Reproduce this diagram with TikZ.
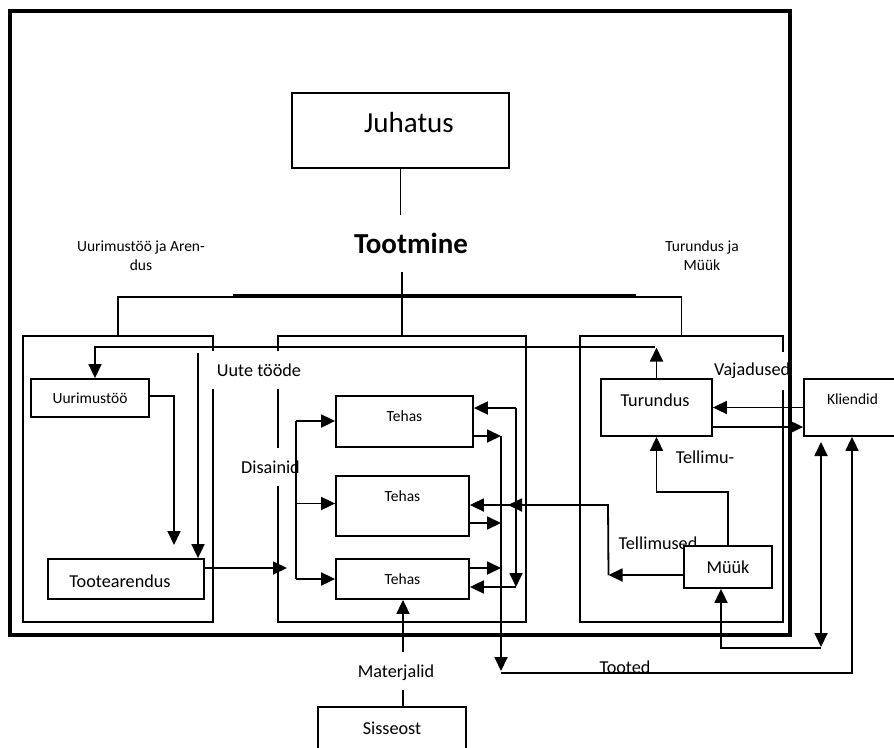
\documentclass[tikz,border=0pt]{standalone}
\usepackage{fontspec}
\setmainfont{Carlito}
\usetikzlibrary{arrows.meta}

\tikzset{
  line/.style={line width=1.8pt},
  tree/.style={line width=1.4pt},
  arr/.style={line width=1.8pt, -{Triangle[length=14pt,width=13pt]}},
  arrboth/.style={line width=1.8pt, {Triangle[length=14pt,width=13pt]}-{Triangle[length=14pt,width=13pt]}},
  box/.style={draw, line width=1.8pt, rectangle, inner sep=0pt, fill=white},
  grp/.style={draw, line width=2pt, rectangle, inner sep=0pt, minimum width=#1, minimum height=286pt},
  small/.style={font=\fontsize{15.5}{19}\selectfont},
  mid/.style={font=\fontsize{18.2}{22}\selectfont},
  big/.style={font=\fontsize{29}{34}\selectfont},
  gap/.style={mid, fill=white, inner xsep=5pt, inner ysep=0pt, minimum height=38pt},
}

\begin{document}
\begin{tikzpicture}[x=1pt,y=-1pt]
\useasboundingbox (0,0) rectangle (894,747);

% department groups
\node[grp=190pt] (grpA) at (118,479) {};
\node[grp=248pt] (grpB) at (402,479) {};
\node[grp=203pt] (grpC) at (681.5,479) {};

% management and the organisation tree
\node[box, minimum width=217pt, minimum height=75pt,
      label={[big, xshift=8.5pt, yshift=7.5pt]center:Juhatus}] (juhatus) at (400.5,130.5) {};
\node[font=\fontsize{29}{34}\selectfont\bfseries] (tootmine) at (411,243) {Tootmine};
\node[small, align=center] (lblrd) at (141,256) {Uurimustöö ja Aren-\\dus};
\node[small, align=center] (lbltm) at (702,256) {Turundus ja\\Müük};

\coordinate (t1) at (400.5,215);
\coordinate (t2) at (402,272);
\coordinate (hub) at (402,297);
\coordinate (barL) at (233,295.5);
\coordinate (barR) at (636,295.5);
\draw[tree] (juhatus.south) -- (t1);
\draw[tree] (t2) -- (grpB.north);
\draw[tree] (grpA.north) -- (grpA.north |- hub) -- (grpC.north |- hub) -- (grpC.north);
\draw[line width=3pt] (barL) -- (barR);

% flow labels
\node[mid] (tellimu) at (705,457) {Tellimu-};
\node[mid] (tellimused) at (658,543) {Tellimused};
\node[mid, anchor=base] (tooted) at (625,673.5) {Tooted};
\node[mid] (materjalid) at (396,673) {Materjalid};
\node[gap] (uute) at (259,370) {Uute tööde};
\node[gap] (disainid) at (270.5,467) {Disainid};
\begin{scope}
  \clip (0,0) rectangle (788,747);
  \node[gap, anchor=west] (vajadused) at (709,371) {Vajadused};
\end{scope}

% units
\node[box, small, minimum width=118pt, minimum height=38pt] (uurim) at (90,398) {Uurimustöö};
\node[box, minimum width=156pt, minimum height=40pt,
      label={[mid, xshift=-6pt, yshift=-2pt]center:Tootearendus}] (tooteare) at (126,579) {};
\node[box, minimum width=137pt, minimum height=51pt,
      label={[small, yshift=5.5pt]center:Tehas}] (tehas1) at (404.5,421.5) {};
\node[box, minimum width=133pt, minimum height=60pt,
      label={[small, yshift=10pt]center:Tehas}] (tehas2) at (402.5,506) {};
\node[box, small, minimum width=133pt, minimum height=40pt] (tehas3) at (402.5,579) {Tehas};
\node[box, minimum width=111pt, minimum height=57pt,
      label={[mid, xshift=-1.5pt, yshift=7.5pt]center:Turundus}] (turundus) at (656.5,407.5) {};
\node[box, minimum width=96pt, minimum height=57pt,
      label={[small, xshift=0.5pt, yshift=8.5pt]center:Kliendid}] (kliendid) at (852,407.5) {};
\node[box, mid, minimum width=88pt, minimum height=42pt] (muuk) at (728,567) {Müük};
\node[box, minimum width=148pt, minimum height=53pt,
      label={[mid, yshift=5.5pt]center:Sisseost}] (sisseost) at (392,733.5) {};

% research and development
\coordinate (fbR) at (656.5,347.5);
\coordinate (fbL) at (95,347);
\coordinate (fbE) at (655,347);
\coordinate (newA) at (198,353);
\coordinate (rd) at (174,545);
\coordinate (dsn) at (287,568);
\draw[arr] (turundus.north) -- (fbR);
\draw[arr] (fbE) -- (fbL) -- (uurim.north -| fbL);
\draw[arr] (newA) -- (tooteare.north -| newA);
\draw[arr] ([yshift=2pt]uurim.east) -| (rd);
\draw[arr] ([yshift=11pt]tooteare.east) -- (dsn);

% designs to the factories
\coordinate (dTop) at (296,421);
\coordinate (dMid) at (296,503.5);
\coordinate (dBot) at (296,579);
\draw[line] (dTop) -- (dBot);
\draw[arr] (dTop) -- (dTop -| tehas1.west);
\draw[arr] (dMid) -- (dMid -| tehas2.west);
\draw[arr] (dBot) -- (dBot -| tehas3.west);

% products out of the factories
\coordinate (o1) at (501,436);
\coordinate (o2) at (501,523);
\coordinate (o3) at (501,568);
\coordinate (oEnd) at (501,671);
\coordinate (tA) at (501,673);
\coordinate (tB) at (852,673);
\draw[arr] (o1 -| tehas1.east) -- (o1);
\draw[arr] (o2 -| tehas2.east) -- (o2);
\draw[arr] (o3 -| tehas3.east) -- (o3);
\draw[arr] (o1) -- (oEnd);
\draw[arr] (tA) -- (tB) -- (kliendid.south -| tB);

% returns to the factories
\coordinate (r1) at (516,408);
\coordinate (r2) at (516,587);
\draw[arr] (r1) -- (r1 -| tehas1.east);
\draw[arr] (r1) -- (r2);
\draw[arr] (r2) -- (r2 -| tehas3.east);

% orders
\coordinate (m1) at (608.5,575);
\coordinate (m2) at (608,505);
\coordinate (mMid) at (508,505);
\draw[arr] (m1 -| muuk.west) -- (m1);
\draw[arr] (m1) -- (m2) -- (m2 -| tehas2.east);
\draw[arr] (m2) -- (mMid);
\coordinate (s1) at (728,492);
\coordinate (s2) at (656.5,492);
\draw[arr] (muuk.north) -- (s1) -- (s2) -- (turundus.south);

% customers
\draw[arr] (kliendid.west) -- (turundus.east);
\draw[arr] ([yshift=-19.5pt]turundus.east) -- ([yshift=-19.5pt]kliendid.west);
\coordinate (k1) at (821,442);
\coordinate (k2) at (821,647);
\coordinate (k3) at (721,648);
\coordinate (k4) at (821,648);
\draw[arrboth] (k1) -- (k2);
\draw[arr] (k4) -- (k3) -- (k3 |- muuk.south);

% materials
\coordinate (ma) at (403,690);
\coordinate (mb) at (403,652);
\draw[line] (ma |- sisseost.north) -- (ma);
\draw[arr] (mb) -- (mb |- tehas3.south);

% company frame
\draw[line width=4.5pt] (10,11) rectangle (790,635);
\end{tikzpicture}
\end{document}
